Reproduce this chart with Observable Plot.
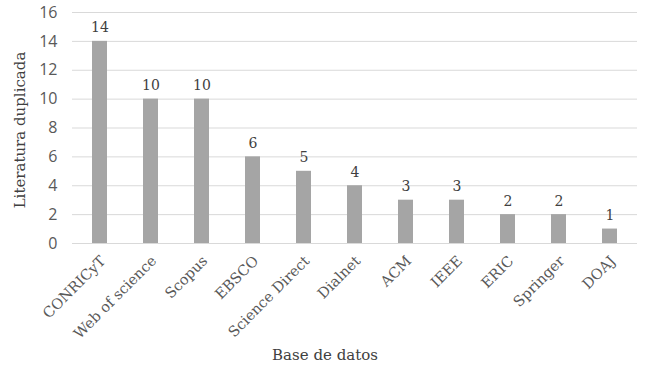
<!DOCTYPE html>
<html>
<head>
<meta charset="utf-8">
<script src="https://cdn.jsdelivr.net/npm/d3@7"></script>
<script src="https://cdn.jsdelivr.net/npm/@observablehq/plot@0.6"></script>
<style>
  html, body { margin: 0; padding: 0; background: #fff; }
</style>
</head>
<body>
<div id="chart"></div>
<script>
const categories = ["CONRICyT", "Web of science", "Scopus", "EBSCO", "Science Direct", "Dialnet", "ACM", "IEEE", "ERIC", "Springer", "DOAJ"];
const values = [14, 10, 10, 6, 5, 4, 3, 3, 2, 2, 1];
const yTicks = [0, 2, 4, 6, 8, 10, 12, 14, 16];
const xTitle = "Base de datos";
const yTitle = "Literatura duplicada";

const data = categories.map((c, i) => ({ base: c, n: values[i] }));
const serif = "'DejaVu Serif', serif";

const chart = Plot.plot({
  width: 650,
  height: 369,
  marginLeft: 72,
  marginRight: 13,
  marginTop: 12,
  marginBottom: 126,
  style: { fontFamily: serif, background: "#fff" },
  x: { domain: categories, paddingInner: 0.7, paddingOuter: 0.35, label: null },
  y: { domain: [0, 16], label: null },
  marks: [
    Plot.gridY(yTicks, { stroke: "#d9d9d9", strokeOpacity: 1 }),
    Plot.barY(data, { x: "base", y: "n", fill: "#a5a5a5" }),
    Plot.text(data, { x: "base", y: "n", text: d => String(d.n), dy: -9, lineAnchor: "bottom", fontSize: 14, fill: "#404040" }),
    Plot.axisY({ ticks: yTicks, tickSize: 0, tickPadding: 15, fontSize: 16, fill: "#595959", fontFamily: "'Open Sans', sans-serif", label: null }),
    Plot.axisX({ tickSize: 0, tickRotate: -45, tickPadding: 8, dx: 3, dy: 7, fontSize: 14.5, fill: "#595959", label: null }),
    Plot.text([yTitle], { frameAnchor: "left", text: d => d, rotate: -90, textAnchor: "middle", dx: -52, dy: 2, fontSize: 15, fill: "#404040" }),
    Plot.text([xTitle], { frameAnchor: "bottom", text: d => d, dx: -30, dy: 116, fontSize: 15, fill: "#404040" })
  ]
});
document.getElementById("chart").appendChild(chart);
</script>
</body>
</html>
